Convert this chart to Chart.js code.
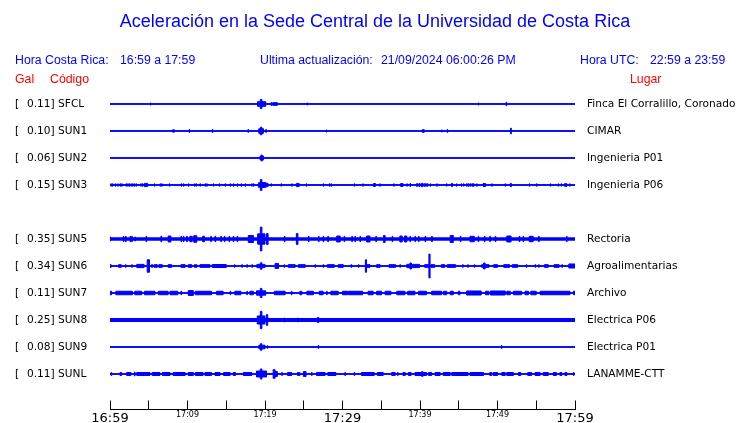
<!DOCTYPE html>
<html>
<head>
<meta charset="utf-8">
<script src="https://cdn.jsdelivr.net/npm/chart.js@4.4.1/dist/chart.umd.min.js"></script>
<style>
  html, body { margin: 0; padding: 0; background: #fff; }
</style>
</head>
<body>
<canvas id="sismo" width="740" height="423"></canvas>
<script>
// textos
const titulo = 'Aceleración en la Sede Central de la Universidad de Costa Rica';
const horaCR = '16:59 a 17:59';
const horaUTC = '22:59 a 23:59';
const actualizacion = '21/09/2024 06:00:26 PM';

// eje de tiempo: minutos desde las 16:59
const tickLabels = ['16:59', '17:09', '17:19', '17:29', '17:39', '17:49', '17:59'];
const bigTicks = ['16:59', '17:29', '17:59'];

// estaciones
const codigos = ['SFCL', 'SUN1', 'SUN2', 'SUN3', 'SUN5', 'SUN6', 'SUN7', 'SUN8', 'SUN9', 'SUNL'];
const filas = [0, 1, 2, 3, 5, 6, 7, 8, 9, 10];
const gal = ['0.11', '0.10', '0.06', '0.15', '0.35', '0.34', '0.11', '0.25', '0.08', '0.11'];
const lugares = ['Finca El Corralillo, Coronado', 'CIMAR', 'Ingenieria P01', 'Ingenieria P06',
  'Rectoria', 'Agroalimentarias', 'Archivo', 'Electrica P06', 'Electrica P01', 'LANAMME-CTT'];

// pulsos de cada traza: [minuto, amplitud] o [inicio, fin, amplitud] (amplitud en filas)
const sfcl = [[5.2, 0.04], [19.05, 19.4, 0.085], [19.4, 19.6, 0.17], [19.6, 20.1, 0.085], [20.8, 0.055],
  [21.0, 21.6, 0.05], [25.4, 0.04], [47.5, 0.04], [51.1, 0.065]];
const sun1 = [[8.0, 0.04], [8.2, 0.055], [10.2, 0.055], [13.2, 0.055], [17.8, 0.055], [19.2, 19.4, 0.085],
  [19.4, 19.6, 0.14], [19.6, 19.8, 0.085], [20.1, 0.055], [27.9, 0.04], [40.3, 40.55, 0.05], [42.8, 0.04],
  [43.5, 0.055], [51.7, 0.11]];
const sun2 = [[19.3, 0.04], [19.4, 19.5, 0.075], [19.5, 19.65, 0.11], [19.65, 19.8, 0.075]];
const sun3 = [[0.1, 0.045], [0.3, 0.045], [0.65, 0.045], [1.0, 0.045], [1.3, 0.045], [1.5, 0.045], [2.06, 0.045],
  [2.28, 0.045], [2.5, 0.045], [2.7, 0.045], [2.92, 0.045], [3.14, 0.045], [3.35, 0.045], [3.96, 0.045],
  [4.17, 0.045], [4.43, 4.86, 0.06], [5.72, 0.045], [6.45, 0.045], [6.67, 0.045], [7.66, 0.045], [9.16, 0.045],
  [9.46, 0.045], [10.1, 0.045], [10.9, 0.045], [11.1, 0.045], [11.6, 0.045], [12.26, 0.045], [12.47, 0.045],
  [13.33, 0.045], [14.1, 0.045], [14.84, 0.045], [15.48, 0.045], [15.9, 0.045], [16.43, 0.045], [16.9, 0.045],
  [17.42, 0.045], [18.28, 0.045], [18.5, 0.045], [19.15, 19.4, 0.085], [19.4, 19.6, 0.2], [19.6, 20.1, 0.09],
  [20.1, 20.4, 0.06], [20.77, 0.045], [22.06, 0.045], [23.44, 0.045], [24.05, 24.4, 0.06], [25.3, 0.045],
  [27.5, 0.045], [28.3, 0.045], [28.5, 0.045], [31.5, 0.045], [32.6, 0.045], [34.0, 34.25, 0.055], [34.8, 0.045],
  [36.6, 0.045], [37.5, 37.8, 0.055], [38.3, 0.045], [38.7, 0.055], [39.55, 39.7, 0.05], [39.85, 40.0, 0.05],
  [40.15, 40.4, 0.06], [40.55, 40.7, 0.05], [40.85, 41.0, 0.05], [41.3, 0.045], [42.15, 0.045], [43.4, 0.045],
  [44.05, 44.2, 0.06], [44.7, 0.045], [45.3, 0.045], [45.6, 0.045], [46.0, 0.05], [46.2, 0.05], [46.45, 0.05],
  [46.7, 0.05], [46.9, 0.05], [47.3, 0.045], [48.15, 48.45, 0.055], [49.25, 0.045], [50.97, 0.045],
  [51.65, 51.8, 0.06], [54.1, 0.045], [55.0, 0.045], [56.8, 0.045], [57.8, 0.045], [58.2, 0.045],
  [58.65, 58.95, 0.05], [59.3, 0.045]];
const sun5 = [[0, 0.075], [1.72, 0.1], [2.0, 0.1], [2.58, 0.1], [2.8, 0.1], [3.2, 0.075], [4.65, 0.1], [6.58, 0.11],
  [7.5, 7.85, 0.11], [9.16, 0.1], [9.46, 0.1], [9.9, 0.1], [10.3, 10.6, 0.1], [10.8, 11.2, 0.12], [11.95, 12.2, 0.1],
  [13.0, 0.1], [13.55, 0.1], [14.3, 0.1], [14.75, 0.1], [15.35, 0.1], [15.9, 0.1], [16.4, 0.1], [17.85, 18.5, 0.13],
  [19.05, 19.4, 0.19], [19.4, 19.6, 0.44], [19.6, 20.0, 0.19], [20.2, 20.4, 0.2], [22.5, 0.1], [24.05, 24.25, 0.2],
  [25.6, 0.1], [26.9, 0.1], [27.5, 0.1], [28.1, 0.1], [29.25, 29.7, 0.11], [30.2, 0.1], [31.2, 0.1], [31.6, 0.1],
  [32.25, 0.1], [33.1, 33.55, 0.11], [34.3, 0.1], [35.3, 35.5, 0.13], [36.4, 0.1], [37.4, 37.7, 0.11],
  [38.0, 38.3, 0.11], [38.7, 0.1], [39.35, 0.1], [39.8, 0.1], [40.65, 0.1], [41.5, 0.1], [43.9, 44.3, 0.13],
  [45.2, 0.1], [46.45, 47.0, 0.1], [47.5, 0.1], [48.3, 0.1], [49.0, 0.1], [49.7, 0.1], [51.2, 51.75, 0.11],
  [52.8, 0.1], [53.3, 0.1], [54.1, 54.6, 0.1], [55.3, 0.1], [58.9, 0.1]];
const sun6 = [[0, 0.15, 0.05], [1.1, 1.45, 0.05], [2.0, 0.05], [2.8, 0.05], [3.45, 4.4, 0.06], [4.8, 5.1, 0.23],
  [5.35, 5.5, 0.05], [5.7, 6.1, 0.05], [6.3, 6.75, 0.05], [7.5, 7.95, 0.05], [9.15, 9.7, 0.05], [10.1, 10.55, 0.05],
  [10.9, 11.2, 0.05], [11.6, 12.9, 0.05], [13.2, 15.0, 0.055], [16.05, 0.05], [17.0, 0.05], [17.65, 0.05],
  [18.3, 0.05], [18.95, 19.4, 0.06], [19.4, 19.6, 0.12], [19.6, 20.0, 0.06], [21.3, 21.75, 0.09], [22.45, 0.05],
  [23.0, 23.9, 0.05], [24.3, 25.2, 0.05], [26.45, 0.05], [27.5, 0.05], [28.05, 28.95, 0.05], [29.45, 30.1, 0.05],
  [31.1, 0.05], [32.05, 0.05], [32.95, 33.1, 0.23], [33.1, 33.55, 0.05], [34.4, 34.85, 0.05], [36.0, 36.85, 0.05],
  [37.4, 0.05], [38.3, 38.7, 0.06], [38.7, 38.9, 0.11], [38.9, 39.95, 0.06], [40.6, 41.15, 0.05],
  [41.15, 41.3, 0.44], [41.4, 41.9, 0.05], [42.75, 43.2, 0.05], [43.5, 44.6, 0.05], [45.5, 0.05], [46.15, 0.05],
  [47.0, 0.05], [47.95, 48.2, 0.05], [48.2, 48.4, 0.11], [48.4, 48.9, 0.05], [49.5, 50.0, 0.05],
  [50.8, 51.55, 0.05], [51.9, 52.6, 0.05], [53.7, 0.05], [54.85, 0.05], [55.3, 0.05], [56.05, 56.55, 0.05],
  [57.3, 57.95, 0.05], [58.3, 0.05], [59.2, 60.0, 0.075]];
const sun7 = [[0, 0.2, 0.065], [0.75, 2.9, 0.065], [3.2, 4.1, 0.065], [4.45, 5.8, 0.065], [6.25, 7.5, 0.065],
  [7.75, 8.75, 0.065], [9.15, 0.065], [10.1, 10.75, 0.09], [11.0, 13.1, 0.065], [13.75, 14.6, 0.065], [15.5, 0.065],
  [16.1, 16.9, 0.065], [17.65, 0.065], [18.05, 18.5, 0.065], [18.9, 19.4, 0.08], [19.4, 19.6, 0.17],
  [19.6, 20.1, 0.08], [21.2, 22.6, 0.065], [23.4, 0.065], [24.5, 24.75, 0.065], [25.4, 26.25, 0.065],
  [27.0, 27.5, 0.065], [27.95, 0.065], [28.5, 29.45, 0.065], [30.0, 30.65, 0.065], [30.75, 32.6, 0.065],
  [33.3, 33.95, 0.065], [34.4, 35.05, 0.065], [35.5, 36.25, 0.065], [37.0, 38.05, 0.065], [38.4, 39.35, 0.065],
  [39.8, 40.85, 0.065], [41.5, 42.8, 0.065], [43.05, 43.45, 0.065], [43.9, 44.3, 0.065], [44.95, 45.15, 0.065],
  [46.0, 47.9, 0.075], [48.45, 48.9, 0.065], [49.1, 51.0, 0.075], [51.2, 51.65, 0.065], [52.05, 53.1, 0.065],
  [53.55, 54.0, 0.065], [54.3, 55.0, 0.065], [55.5, 59.35, 0.065], [59.8, 60, 0.065]];
const sun8 = [[19.0, 19.4, 0.15], [19.4, 19.6, 0.32], [19.6, 20.0, 0.15], [20.2, 20.35, 0.2], [22.5, 0.075],
  [24.2, 0.075], [26.75, 26.95, 0.09], [41.3, 0.055], [50.45, 0.055], [54.75, 0.055]];
const sun9 = [[19.2, 19.4, 0.065], [19.4, 19.6, 0.12], [19.6, 20.0, 0.065], [20.3, 0.05], [26.85, 0.055], [50.5, 0.055]];
const sunl = [[0.13, 0.055], [1.3, 1.5, 0.055], [2.15, 2.7, 0.055], [3.15, 0.075], [3.45, 5.15, 0.055],
  [5.45, 6.45, 0.055], [6.75, 7.75, 0.055], [8.15, 9.7, 0.055], [10.1, 10.75, 0.055], [11.0, 12.0, 0.055],
  [12.25, 13.1, 0.055], [13.55, 14.2, 0.055], [14.65, 15.5, 0.055], [15.9, 16.2, 0.055], [17.2, 18.3, 0.055],
  [18.9, 19.4, 0.11], [19.4, 19.6, 0.185], [19.6, 20.2, 0.11], [21.05, 21.3, 0.16], [21.3, 21.6, 0.09],
  [22.15, 0.055], [22.9, 23.45, 0.055], [24.2, 24.5, 0.055], [24.95, 25.3, 0.09], [26.0, 0.055],
  [26.65, 27.75, 0.055], [28.1, 29.15, 0.055], [30.3, 0.055], [31.5, 0.055], [32.45, 34.1, 0.055],
  [34.5, 35.25, 0.055], [36.35, 36.8, 0.055], [37.1, 0.055], [37.8, 38.1, 0.055], [38.5, 38.85, 0.055],
  [39.35, 40.2, 0.055], [40.2, 40.4, 0.085], [40.4, 40.85, 0.055], [41.1, 41.5, 0.055], [41.95, 42.6, 0.055],
  [43.0, 43.9, 0.055], [44.1, 46.2, 0.055], [46.45, 48.2, 0.055], [49.0, 49.25, 0.055], [49.45, 50.0, 0.055],
  [50.55, 51.0, 0.055], [51.2, 52.05, 0.055], [52.7, 53.0, 0.055], [53.9, 54.4, 0.055], [54.85, 55.5, 0.055],
  [55.9, 56.55, 0.055], [57.2, 57.6, 0.055], [58.05, 58.3, 0.055], [58.7, 58.95, 0.055], [59.8, 0.055]];
const pulsos = [sfcl, sun1, sun2, sun3, sun5, sun6, sun7, sun8, sun9, sunl];

// estilos
const azul = '#0000ff';
const rojo = '#ff0000';
const grosor = { SUN5: 3.5, SUN8: 3.8, SUN3: 1.5 };
const anchoPico = 0.08; // minutos

const datasets = [];
codigos.forEach((cod, i) => {
  const fila = filas[i];
  const lista = pulsos[i].map(p => p.length === 2 ? [p[0], p[0] + anchoPico, p[1]] : p);
  [-1, 1].forEach(signo => {
    const pts = [{ x: 0, y: fila }];
    lista.forEach(([t1, t2, a]) => {
      pts.push({ x: t1, y: fila + signo * a });
      pts.push({ x: t2, y: fila });
    });
    pts.push({ x: 60, y: fila });
    datasets.push({
      data: pts, stepped: true, borderColor: azul, backgroundColor: azul,
      borderWidth: 1, pointRadius: 0, fill: { value: fila }
    });
  });
  datasets.push({
    data: [{ x: 0, y: fila }, { x: 60, y: fila }], borderColor: azul,
    borderWidth: grosor[cod] || 1.3, pointRadius: 0, fill: false
  });
});

// textos alrededor del grafico
const textos = {
  id: 'textos',
  afterDraw(chart) {
    const ctx = chart.ctx;
    const y = chart.scales.y;
    ctx.save();
    ctx.textBaseline = 'middle';
    ctx.textAlign = 'center';
    ctx.fillStyle = azul;
    ctx.font = '18px "Liberation Sans", Arial, sans-serif';
    ctx.fillText(titulo, 375, 22);

    ctx.textAlign = 'left';
    ctx.font = '12.3px "Liberation Sans", Arial, sans-serif';
    ctx.fillText('Hora Costa Rica:', 15, 61);
    ctx.fillText(horaCR, 120, 61);
    ctx.fillText('Ultima actualización:', 260, 61);
    ctx.fillText(actualizacion, 381, 61);
    ctx.fillText('Hora UTC:', 580, 61);
    ctx.fillText(horaUTC, 650, 61);

    ctx.fillStyle = rojo;
    ctx.fillText('Gal', 15, 80);
    ctx.fillText('Código', 50, 80);
    ctx.fillText('Lugar', 630, 80);

    ctx.fillStyle = '#000';
    ctx.font = '10.6px "DejaVu Sans", sans-serif';
    codigos.forEach((cod, i) => {
      const py = y.getPixelForValue(filas[i]);
      ctx.fillText('[', 15, py);
      ctx.fillText(gal[i] + '] ' + cod, 27, py);
      ctx.fillText(lugares[i], 587, py);
    });
    ctx.restore();
  }
};

new Chart(document.getElementById('sismo'), {
  type: 'line',
  data: { datasets },
  plugins: [textos],
  options: {
    responsive: false,
    animation: false,
    devicePixelRatio: 1,
    layout: { padding: { top: 77, left: 110, right: 165, bottom: 0 } },
    plugins: { legend: { display: false }, tooltip: { enabled: false }, title: { display: false } },
    scales: {
      x: {
        type: 'linear', min: 0, max: 60,
        afterFit: s => { s.height = 13.5; },
        ticks: {
          stepSize: 5, autoSkip: false, maxRotation: 0, padding: 10, color: '#000',
          callback: v => v % 10 === 0 ? tickLabels[v / 10] : '',
          font: c => {
            const lab = c.tick && c.tick.value % 10 === 0 ? tickLabels[c.tick.value / 10] : '';
            return { family: 'DejaVu Sans', size: bigTicks.includes(lab) ? 13 : 8 };
          }
        },
        grid: { drawOnChartArea: false, drawTicks: true, tickLength: -9, color: '#000', lineWidth: 1 },
        border: { display: true, color: '#000', width: 1 }
      },
      y: { type: 'linear', reverse: true, min: -1, max: 11.315, display: false }
    }
  }
});
</script>
</body>
</html>
